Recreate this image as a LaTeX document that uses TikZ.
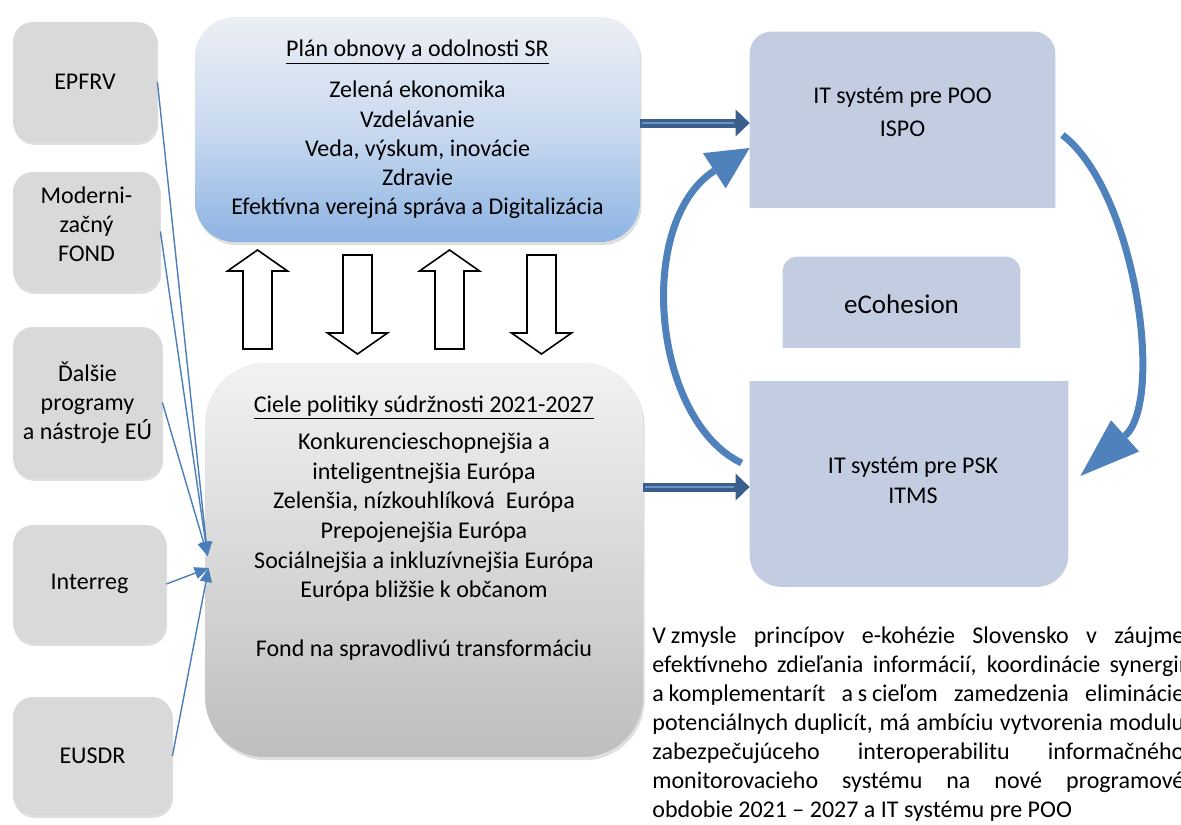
\documentclass[tikz,border=0pt]{standalone}
\usepackage{fontspec}
\setmainfont{Carlito}
\usetikzlibrary{arrows.meta,positioning,calc,shadows,backgrounds}
\definecolor{boxgray}{HTML}{D9D9D9}
\definecolor{itfill}{HTML}{C3CDE2}
\definecolor{arcblue}{HTML}{4F81BD}
\definecolor{dblue}{HTML}{3A5F8C}
\definecolor{linkblue}{HTML}{4A7EBB}
\definecolor{plantop}{HTML}{ECEFF4}
\definecolor{planmid}{HTML}{C9DAF0}
\definecolor{planbot}{HTML}{8DB3E2}
\definecolor{cieltop}{HTML}{F2F2F2}
\definecolor{cielbot}{HTML}{BEBEBE}
\tikzset{
  fundbox/.style={fill=boxgray, rounded corners=10pt, align=center,
                  font=\fontsize{12}{14.5}\selectfont,
                  drop shadow={opacity=0.25, shadow xshift=0.6pt, shadow yshift=-1.4pt}},
  planbox/.style={top color=plantop, bottom color=planbot, middle color=planmid,
                  rounded corners=20pt, align=center, font=\fontsize{12}{14.6}\selectfont,
                  drop shadow={opacity=0.25, shadow xshift=0.8pt, shadow yshift=-1.6pt}},
  cielbox/.style={top color=cieltop, bottom color=cielbot, rounded corners=30pt,
                  drop shadow={opacity=0.25, shadow xshift=0.8pt, shadow yshift=-1.6pt}},
  itbox/.style={inner sep=0pt},
  itlabel/.style={align=center, font=\fontsize{12}{14.5}\selectfont},
  linkarr/.style={-{Triangle[length=7pt,width=6pt]}, linkblue, line width=0.7pt},
  dblarr/.style={-{Triangle[width=13.5pt,length=7pt,line width'=0pt]}, dblue, line width=4.5pt},
  dblstripe/.style={arcblue!85!white, line width=1pt, shorten >=8pt, shorten <=1pt},
  cycarr/.style={arcblue, line width=3.5pt},
  blockarr/.style={draw=black, fill=white, line width=0.8pt, line join=miter},
}

\begin{document}
\begin{tikzpicture}[x=0.5pt, y=-0.5pt]
  \useasboundingbox (0,0) rectangle (1181,824);
  \clip (0,0) rectangle (1181,824);

  % funds on the left
  \node[fundbox, minimum width=72pt, minimum height=60pt] (epfrv) at (85,82) {EPFRV};
  \node[fundbox, minimum width=73.5pt, minimum height=59.5pt] (modfond) at (86.5,231.5)
       {Moderni-\\začný\\FOND\\[-7pt]\mbox{}};
  \node[fundbox, minimum width=74.5pt, minimum height=75.5pt] (dalsie) at (87.5,402.5) {Ďalšie\\programy\\a nástroje EÚ};
  \node[fundbox, minimum width=76.5pt, minimum height=59pt] (interreg) at (89.5,584) {Interreg};
  \node[fundbox, minimum width=79.5pt, minimum height=59pt] (eusdr) at (92.5,756) {EUSDR};

  % the two big boxes
  \node[planbox, minimum width=222.5pt, minimum height=112.5pt] (plan) at (417.5,129.5)
       {\underline{Plán obnovy a odolnosti SR}\\[6pt] Zelená ekonomika\\ Vzdelávanie\\
        Veda, výskum, inovácie\\ Zdravie\\ Efektívna verejná správa a Digitalizácia};
  \node[cielbox, minimum width=219pt, minimum height=197pt] (ciele) at (424,560) {};
  \node[align=center, font=\fontsize{12}{14.8}\selectfont] (cieletext) at (424,528)
       {\underline{Ciele politiky súdržnosti 2021-2027}\\[4pt] Konkurencieschopnejšia a\\
        inteligentnejšia Európa\\ Zelenšia, nízkouhlíková~ Európa\\ Prepojenejšia Európa\\
        Sociálnejšia a inkluzívnejšia Európa\\ Európa bližšie k občanom\\[14.8pt]
        Fond na spravodlivú transformáciu};

  % IT systems
  \node[itbox, minimum width=152.5pt, minimum height=87.5pt,
        label={[itlabel, yshift=4pt]center:{IT systém pre POO\\[2pt] ISPO}}] (ispo) at (902.5,119.5) {};
  \node[itbox, minimum width=118.5pt, minimum height=45pt,
        label={[itlabel, font=\fontsize{13.5}{16}\selectfont, yshift=-1pt]center:eCohesion}] (ecoh) at (901.5,302) {};
  \node[itbox, minimum width=159pt, minimum height=102.5pt,
        label={[itlabel, xshift=2pt, yshift=2pt]center:{IT systém pre PSK\\[0.5pt] ITMS}}] (itms) at (909,484) {};

  \begin{scope}[on background layer]
    \fill[white] (0,0) rectangle (1181,824);
    \begin{scope}
      \clip (ispo.south west) rectangle (ispo.north east);
      \fill[itfill, rounded corners=11pt] ([yshift=-14pt]ispo.south west) rectangle (ispo.north east);
    \end{scope}
    \begin{scope}
      \clip (ecoh.south west) rectangle (ecoh.north east);
      \fill[itfill, rounded corners=7.5pt] ([yshift=-10pt]ecoh.south west) rectangle (ecoh.north east);
    \end{scope}
    \begin{scope}
      \clip (itms.south west) rectangle (itms.north east);
      \fill[itfill, rounded corners=16pt] (itms.south west) rectangle ([yshift=20pt]itms.north east);
    \end{scope}
  \end{scope}

  % up and down block arrows
  \foreach \cx in {257.5,449.5}
    \draw[blockarr] (\cx-14.5,349) -- (\cx-14.5,271) -- (\cx-30,271) -- (\cx,250)
      -- (\cx+30,271) -- (\cx+14.5,271) -- (\cx+14.5,349) -- cycle;
  \foreach \cx in {357.5,541.5}
    \draw[blockarr] (\cx-14.5,255) -- (\cx-14.5,333) -- (\cx-30,333) -- (\cx,354)
      -- (\cx+30,333) -- (\cx+14.5,333) -- (\cx+14.5,255) -- cycle;

  % funds into the cohesion goals
  \coordinate (hubtop) at ($(ciele.west)+(3,-4)$);
  \coordinate (hubbot) at ($(ciele.west)+(4,8)$);
  \foreach \src in {epfrv,modfond,dalsie}
    \draw[linkarr] (\src.east) -- (hubtop);
  \foreach \src in {interreg,eusdr}
    \draw[linkarr] (\src.east) -- (hubbot);

  % into the IT systems
  \coordinate (planout) at ([yshift=3.25pt]plan.east);
  \coordinate (cieleout) at ([yshift=36.5pt]ciele.east);
  \draw[dblarr] (planout) -- (planout -| ispo.west);
  \draw[dblstripe] (planout) -- (planout -| ispo.west);
  \draw[dblarr] (cieleout) -- (cieleout -| itms.west);
  \draw[dblstripe] (cieleout) -- (cieleout -| itms.west);

  % exchange loop
  \draw[cycarr, -{Triangle[width=21pt,length=21pt,line width'=0pt]}]
    ([xshift=-4pt,yshift=10.5pt]itms.west) .. controls (652,420) and (635,222)
    .. ([yshift=-14.25pt]ispo.west);
  \draw[cycarr, -{Triangle[width=21pt,length=30pt,line width'=0pt]}]
    ([xshift=3.5pt,yshift=-7.75pt]ispo.east) .. controls (1135,190) and (1165,400)
    .. ([xshift=6pt,yshift=4pt]itms.east);

  \node[anchor=north west, inner sep=0pt, align=left, font=\fontsize{12}{14.5}\selectfont]
       (note) at (652,626)
       {\makebox[266pt][s]{V\hspace{0.2em}zmysle princípov e-kohézie Slovensko v záujme}\\
        \makebox[266pt][s]{efektívneho zdieľania informácií, koordinácie synergií}\\
        \makebox[266pt][s]{a\hspace{0.2em}komplementarít a\hspace{0.2em}s\hspace{0.2em}cieľom zamedzenia eliminácie}\\
        \makebox[266pt][s]{potenciálnych duplicít, má ambíciu vytvorenia modulu}\\
        \makebox[266pt][s]{zabezpečujúceho interoperabilitu informačného}\\
        \makebox[266pt][s]{monitorovacieho systému na nové programové}\\
        obdobie 2021 – 2027 a IT systému pre POO};
\end{tikzpicture}
\end{document}
